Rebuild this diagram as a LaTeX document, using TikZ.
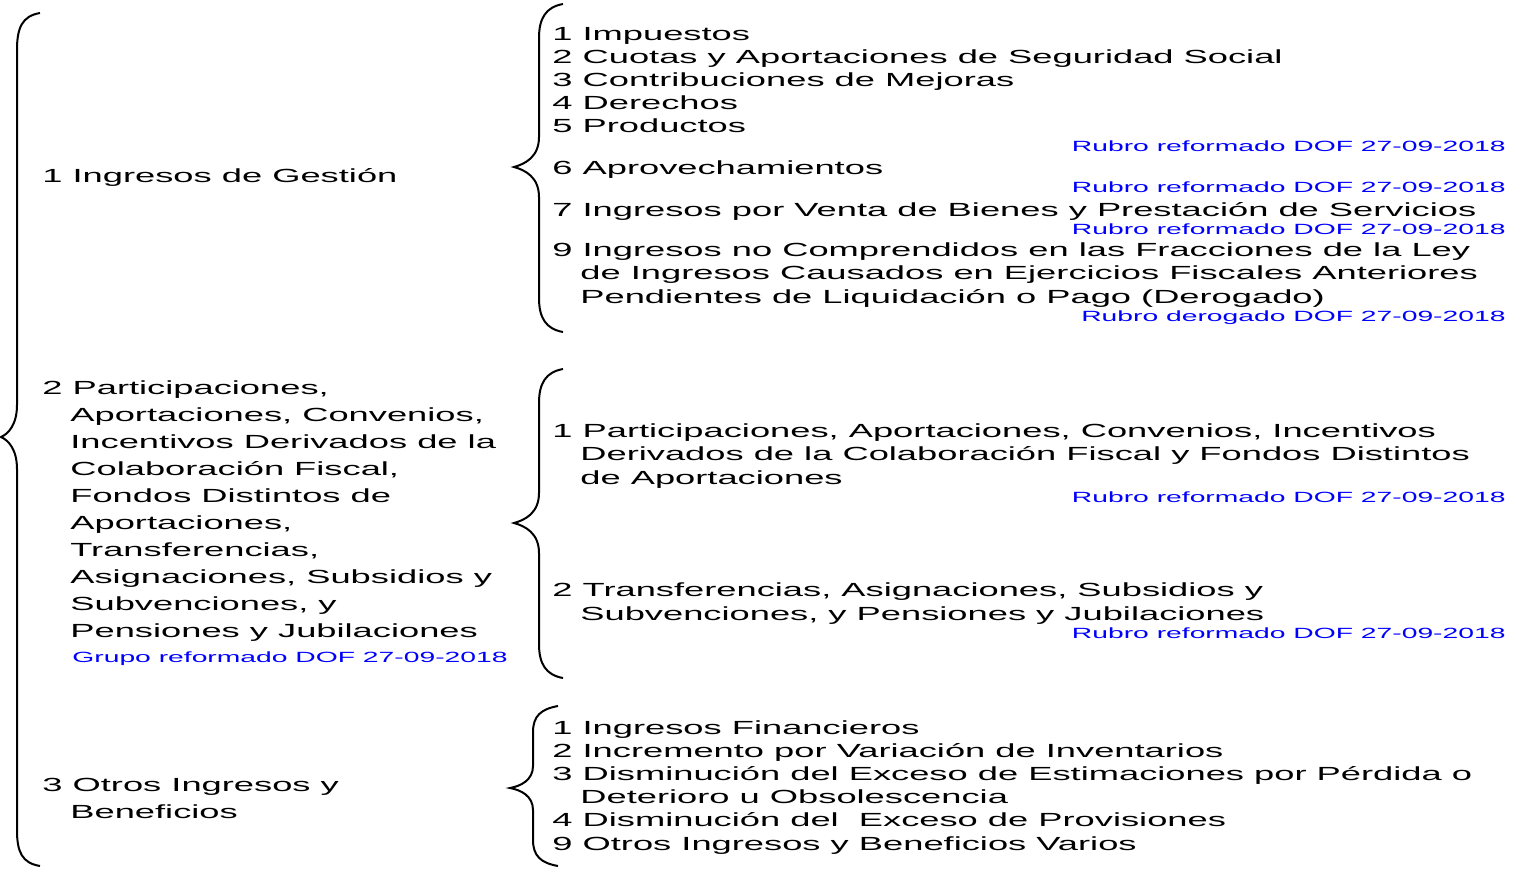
\documentclass[tikz,border=0pt]{standalone}
\usepackage{fontspec}
\setmainfont{Liberation Sans}[FakeStretch=1.91]
\newcommand\blk{\fontsize{9.5}{11.6}\selectfont}
\newcommand\blkl{\fontsize{9.5}{13.45}\selectfont}
\newcommand\nt{\fontsize{7.4}{9}\selectfont}
\newcommand\ind{\hspace*{14pt}}

\begin{document}
\begin{tikzpicture}[x=0.5pt,y=-0.5pt,
  curly/.style={line width=1pt},
  grp/.style={anchor=base west,inner sep=0pt,align=left,font=\blkl},
  item/.style={anchor=base west,inner sep=0pt,align=left,font=\blk},
  note/.style={anchor=base east,inner sep=0pt,font=\nt,text=blue}]
  \useasboundingbox (0,0) rectangle (1521,869);

  % braces
  \draw[curly] (40,13) .. controls (22,16) and (17,28) .. (17,50) -- (17,405) .. controls (17,425) and (8,434) .. (1,437) .. controls (8,440) and (17,449) .. (17,469) -- (17,830) .. controls (17,852) and (22,863) .. (40,866);
  \draw[curly] (563,4) .. controls (546,7) and (539,18) .. (539,38) -- (539,137) .. controls (539,157) and (525,164) .. (514,167) .. controls (525,170) and (539,177) .. (539,197) -- (539,298) .. controls (539,318) and (546,329) .. (563,332);
  \draw[curly] (563,369) .. controls (546,372) and (539,383) .. (539,403) -- (539,493) .. controls (539,513) and (525,520) .. (514,523) .. controls (525,526) and (539,533) .. (539,553) -- (539,644) .. controls (539,664) and (546,675) .. (563,678);
  \draw[curly] (558,706) .. controls (541,709) and (533,716) .. (533,732) -- (533,766) .. controls (533,780) and (521,786) .. (510,788) .. controls (521,790) and (533,796) .. (533,810) -- (533,840) .. controls (533,856) and (541,863) .. (558,866);

  % grupos (base = last line)
  \node[grp] (g1) at (42,182) {1 Ingresos de Gestión};
  \node[grp] (g2) at (42,637) {2 Participaciones,\\\ind Aportaciones, Convenios,\\\ind Incentivos Derivados de la\\\ind Colaboración Fiscal,\\\ind Fondos Distintos de\\\ind Aportaciones,\\\ind Transferencias,\\\ind Asignaciones, Subsidios y\\\ind Subvenciones, y\\\ind Pensiones y Jubilaciones};
  \node[note,anchor=base west] (n2) at (72,662.5) {Grupo reformado DOF 27-09-2018};
  \node[grp] (g3) at (42,818) {3 Otros Ingresos y\\\ind Beneficios};

  % rubros de 1
  \node[item] (r11) at (552,40) {1 Impuestos};
  \node[item] (r12) at (552,63) {2 Cuotas y Aportaciones de Seguridad Social};
  \node[item] (r13) at (552,86) {3 Contribuciones de Mejoras};
  \node[item] (r14) at (552,109) {4 Derechos};
  \node[item] (r15) at (552,132) {5 Productos};
  \node[note] (n15) at (1506,151.5) {Rubro reformado DOF 27-09-2018};
  \node[item] (r16) at (552,174) {6 Aprovechamientos};
  \node[note] (n16) at (1506,192.5) {Rubro reformado DOF 27-09-2018};
  \node[item] (r17) at (552,216) {7 Ingresos por Venta de Bienes y Prestación de Servicios};
  \node[note] (n17) at (1506,234.5) {Rubro reformado DOF 27-09-2018};
  \node[item] (r19) at (552,303) {9 Ingresos no Comprendidos en las Fracciones de la Ley\\\ind de Ingresos Causados en Ejercicios Fiscales Anteriores\\\ind Pendientes de Liquidación o Pago (Derogado)};
  \node[note] (n19) at (1506,321.5) {Rubro derogado DOF 27-09-2018};

  % rubros de 2
  \node[item] (r21) at (552,484) {1 Participaciones, Aportaciones, Convenios, Incentivos\\\ind Derivados de la Colaboración Fiscal y Fondos Distintos\\\ind de Aportaciones};
  \node[note] (n21) at (1506,502.5) {Rubro reformado DOF 27-09-2018};
  \node[item] (r22) at (552,620) {2 Transferencias, Asignaciones, Subsidios y\\\ind Subvenciones, y Pensiones y Jubilaciones};
  \node[note] (n22) at (1506,638.5) {Rubro reformado DOF 27-09-2018};

  % rubros de 3
  \node[item] (r31) at (552,850) {1 Ingresos Financieros\\2 Incremento por Variación de Inventarios\\3 Disminución del Exceso de Estimaciones por Pérdida o\\\ind Deterioro u Obsolescencia\\4 Disminución del~ Exceso de Provisiones\\9 Otros Ingresos y Beneficios Varios};
\end{tikzpicture}
\end{document}
